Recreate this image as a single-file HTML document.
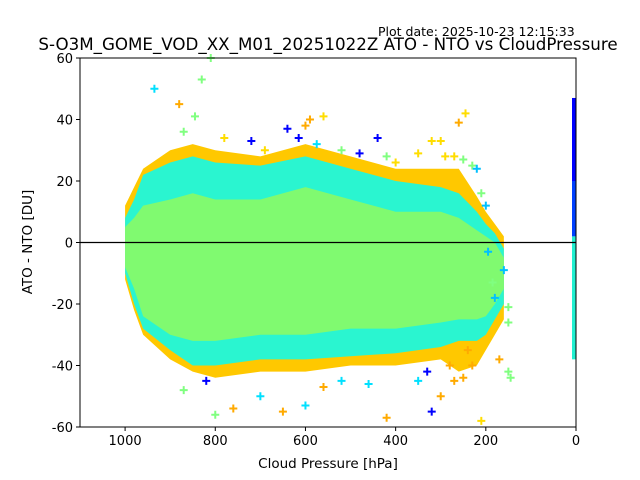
<!DOCTYPE html>
<html><head><meta charset="utf-8"><style>
body{margin:0;background:#fff}
svg{display:block}
text{font-family:"DejaVu Sans","Liberation Sans",sans-serif;fill:#000}
</style></head><body>
<svg id="chart" width="640" height="480">
<text x="378" y="36" font-size="12.5">Plot date: 2025-10-23 12:15:33</text>
<text x="328" y="50" font-size="16.7" text-anchor="middle">S-O3M_GOME_VOD_XX_M01_20251022Z ATO - NTO vs CloudPressure</text>
<g id="plot"></g>
<text x="328" y="468" font-size="13.5" text-anchor="middle">Cloud Pressure [hPa]</text>
<text x="32" y="242" font-size="13.5" text-anchor="middle" transform="rotate(-90 32 242)">ATO - NTO [DU]</text>
</svg>
<script>
const bandP=[1000,980,960,900,850,800,700,600,500,400,300,260,220,200,180,160];
const outerTop=[12,18,24,30,32,30,28,32,28,24,24,24,15,10,6,2];
const outerBot=[-12,-22,-30,-38,-42,-44,-42,-42,-40,-40,-38,-42,-40,-35,-30,-25];
const cyanTop=[8,14,22,26,28,26,25,28,24,20,18,16,10,6,3,-2];
const cyanBot=[-10,-20,-28,-35,-40,-40,-38,-38,-37,-36,-34,-32,-32,-30,-25,-20];
const greenTop=[5,8,12,14,16,14,14,18,14,10,10,8,4,2,0,-5];
const greenBot=[-8,-15,-24,-30,-32,-32,-30,-30,-28,-28,-26,-25,-25,-24,-20,-15];
const outP=[935,880,870,845,830,810,780,720,690,640,615,600,590,575,560,520,480,440,420,400,350,320,300,290,270,260,250,245,230,220,210,200,195,185,180,160,150,150,870,820,800,760,700,650,600,560,520,460,420,350,330,320,300,280,270,250,240,230,210,170,150,145];
const outV=[50,45,36,41,53,60,34,33,30,37,34,38,40,32,41,30,29,34,28,26,29,33,33,28,28,39,27,42,25,24,16,12,-3,-13,-18,-9,-26,-21,-48,-45,-56,-54,-50,-55,-53,-47,-45,-46,-57,-45,-42,-55,-50,-40,-45,-44,-35,-40,-58,-38,-42,-44];
const outC=['#00e0ff','#ffaa00','#80ff80','#80ff80','#80ff80','#80ff80','#ffdd00','#0000ff','#ffdd00','#0000ff','#0000ff','#ffaa00','#ffaa00','#00e0ff','#ffdd00','#80ff80','#0000ff','#0000ff','#80ff80','#ffdd00','#ffdd00','#ffdd00','#ffdd00','#ffdd00','#ffdd00','#ffaa00','#80ff80','#ffdd00','#80ff80','#00c0ff','#80ff80','#00c0ff','#00c0ff','#80ff80','#00c0ff','#00c0ff','#80ff80','#80ff80','#80ff80','#0000ff','#80ff80','#ffaa00','#00e0ff','#ffaa00','#00e0ff','#ffaa00','#00e0ff','#00e0ff','#ffaa00','#00e0ff','#0000ff','#0000ff','#ffaa00','#ffaa00','#ffaa00','#ffaa00','#ffaa00','#ffaa00','#ffdd00','#ffaa00','#80ff80','#80ff80'];
const colSegLo=[-38,2,20];
const colSegHi=[2,20,47];
const colSegC=['#20f0d0','#0040ff','#0000ff'];
const xTicks=[1000,800,600,400,200,0];
const yTicks=[-60,-40,-20,0,20,40,60];

const L=80,R=576,T=58,B=427;
const xs=p=>L+(1100-p)/1100*(R-L);
const ys=v=>T+(60-v)/120*(B-T);
const NS='http://www.w3.org/2000/svg';
const g=document.getElementById('plot');
function mk(tag,a){const e=document.createElementNS(NS,tag);for(const k in a)e.setAttribute(k,a[k]);g.appendChild(e);return e;}
function band(top,bot,fill,name){
  let pts=bandP.map((p,i)=>xs(p)+','+ys(top[i]));
  for(let i=bandP.length-1;i>=0;i--)pts.push(xs(bandP[i])+','+ys(bot[i]));
  const e=mk('polygon',{points:pts.join(' '),fill:fill});
  
  
}
band(outerTop,outerBot,'#ffc800','outer-band');
band(cyanTop,cyanBot,'#2af5d0','cyan-band');
band(greenTop,greenBot,'#80fa70','green-core');
outP.forEach((p,i)=>{
  const x=xs(p),y=ys(outV[i]);
  const e=mk('path',{d:`M${x-4},${y}H${x+4}M${x},${y-4}V${y+4}`,stroke:outC[i],'stroke-width':2});
  
  
});
colSegLo.forEach((lo,i)=>{
  const e=mk('rect',{x:xs(0)-4,y:ys(colSegHi[i]),width:4,height:ys(lo)-ys(colSegHi[i]),fill:colSegC[i]});
  
  
});
const z=mk('line',{x1:L,x2:R,y1:ys(0),y2:ys(0),stroke:'#000','stroke-width':1.2});


const fr=mk('rect',{x:L,y:T,width:R-L,height:B-T,fill:'none',stroke:'#000','stroke-width':1});


xTicks.forEach(t=>{
  const x=xs(t);
  const l=mk('line',{x1:x,x2:x,y1:B,y2:B+4,stroke:'#000'});
  
  
  const tx=mk('text',{x:x,y:B+18,'font-size':13,'text-anchor':'middle'});
  tx.textContent=t;
  
  
});
yTicks.forEach(t=>{
  const y=ys(t);
  const l=mk('line',{x1:L-4,x2:L,y1:y,y2:y,stroke:'#000'});
  
  
  const tx=mk('text',{x:L-7,y:y+5,'font-size':13,'text-anchor':'end'});
  tx.textContent=t;
  
  
});
</script>
</body></html>
